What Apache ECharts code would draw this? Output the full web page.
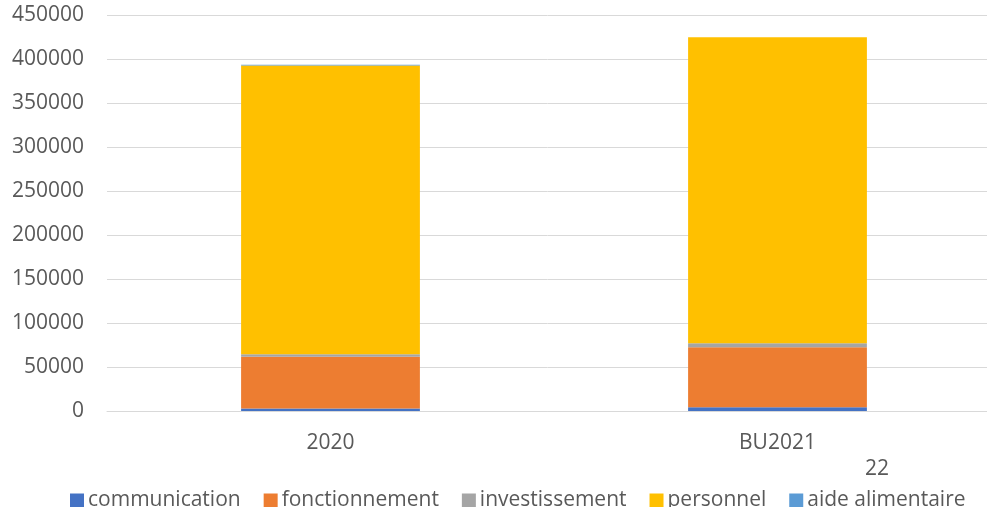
<!DOCTYPE html>
<html>
<head>
<meta charset="utf-8">
<script src="https://cdn.jsdelivr.net/npm/echarts@6/dist/echarts.min.js"></script>
<style>html,body{margin:0;padding:0;background:#fff}#c{width:987px;height:507px}</style>
</head>
<body>
<div id="c"></div>
<script>
var categories = ['2020', 'BU2021'];
var communication = [2800, 4200];
var fonctionnement = [58800, 68200];
var investissement = [3000, 4500];
var personnel = [328000, 347700];
var aideAlimentaire = [1000, 0];
var seriesNames = ['communication', 'fonctionnement', 'investissement', 'personnel', 'aide alimentaire'];
var seriesData = [communication, fonctionnement, investissement, personnel, aideAlimentaire];
var colors = ['#4472C4', '#ED7D31', '#A5A5A5', '#FFC000', '#5B9BD5'];
var yTicks = { min: 0, max: 450000, interval: 50000 };
var noteText = '22';

var FONT = 'Open Sans';
var TXT = '#595959';
var chart = echarts.init(document.getElementById('c'), null, { renderer: 'canvas' });
chart.setOption({
  animation: false,
  color: colors,
  grid: { left: 107, top: 15, bottom: 96, width: 894, containLabel: false, outerBoundsMode: 'none' },
  xAxis: {
    type: 'category',
    data: categories,
    axisLine: { lineStyle: { color: '#D9D9D9', width: 1 } },
    axisTick: { show: false },
    axisLabel: { color: TXT, fontFamily: FONT, fontSize: 21, margin: 22 }
  },
  yAxis: {
    type: 'value',
    min: yTicks.min, max: yTicks.max, interval: yTicks.interval,
    axisLine: { show: false },
    axisTick: { show: false },
    splitLine: { lineStyle: { color: '#D9D9D9', width: 1 } },
    axisLabel: { color: TXT, fontFamily: FONT, fontSize: 21, margin: 23,
      formatter: function (v) { return String(v); } }
  },
  legend: {
    left: 65, top: 485,
    icon: 'rect', itemWidth: 14, itemHeight: 14, itemGap: 23,
    textStyle: { color: TXT, fontFamily: FONT, fontSize: 21, padding: [0, 0, 0, -1] },
    data: seriesNames
  },
  graphic: [{
    type: 'text', left: 865, top: 459,
    style: { text: noteText, fill: TXT, font: '21px "Open Sans"' }
  }],
  series: seriesNames.map(function (n, i) {
    return { name: n, type: 'bar', stack: 'total', barWidth: '40%', data: seriesData[i] };
  })
});
</script>
</body>
</html>
